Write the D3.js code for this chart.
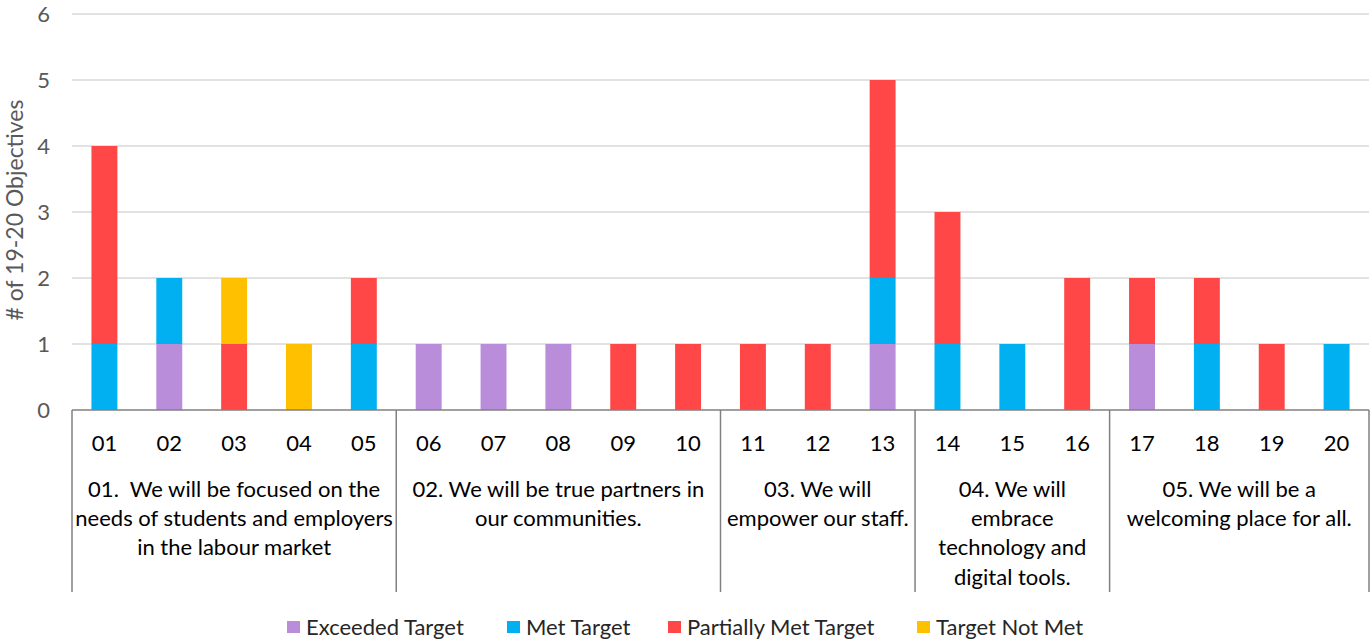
<!doctype html>
<html>
<head>
<script src="https://d3js.org/d3.v7.min.js"></script>
<style>
  body { margin: 0; background: #fff; }
  text { font-family: Lato, "Open Sans", sans-serif; }
</style>
</head>
<body>
<svg id="chart"></svg>
<script>
    // data
    var codes = ["01","02","03","04","05","06","07","08","09","10",
                 "11","12","13","14","15","16","17","18","19","20"];
    var exceeded = [0,1,0,0,0,1,1,1,0,0,0,0,1,0,0,0,1,0,0,0];
    var met      = [1,1,0,0,1,0,0,0,0,0,0,0,1,1,1,0,0,1,0,1];
    var partial  = [3,0,1,0,1,0,0,0,1,1,1,1,3,2,0,2,1,1,1,0];
    var notMet   = [0,0,1,1,0,0,0,0,0,0,0,0,0,0,0,0,0,0,0,0];
    var seriesNames = ["Exceeded Target", "Met Target", "Partially Met Target", "Target Not Met"];
    var colors = ["#B98DDA", "#00B0F0", "#FF4747", "#FFC000"];
    var groupSizes = [5, 5, 3, 3, 4];
    var groupLabels = [
        ["01.\u00a0 We will be focused on the", "needs of students and employers", "in the labour market"],
        ["02. We will be true partners in", "our communities."],
        ["03. We will", "empower our staff."],
        ["04. We will", "embrace", "technology and", "digital tools."],
        ["05. We will be a", "welcoming place for all."]
    ];
    var yTicks = [0,1,2,3,4,5,6];

    var W = 1372, H = 641;
    var margin = { top: 14, right: 3, bottom: 231, left: 72 },
        width = W - margin.left - margin.right,
        height = H - margin.top - margin.bottom;

    var svg = d3.select("#chart").attr("width", W).attr("height", H);
    var g = svg.append("g").attr("transform", "translate(" + margin.left + "," + margin.top + ")");

    var table = codes.map(function (c, i) {
        return { code: c, e: exceeded[i], m: met[i], p: partial[i], n: notMet[i] };
    });
    var keys = ["e", "m", "p", "n"];
    var stacked = d3.stack().keys(keys)(table);

    var x = d3.scaleBand().domain(codes).range([0, width]).paddingInner(0.6).paddingOuter(0.3);
    var y = d3.scaleLinear().domain([0, 6]).range([height, 0]);

    // gridlines
    g.selectAll(".grid")
        .data(yTicks.slice(1))
        .enter().append("line")
        .attr("x1", 0).attr("x2", width)
        .attr("y1", function (d) { return y(d); })
        .attr("y2", function (d) { return y(d); })
        .attr("stroke", "#d9d9d9").attr("stroke-width", 1.5);

    g.selectAll(".ytick")
        .data(yTicks)
        .enter().append("text")
        .attr("x", -22)
        .attr("y", function (d) { return y(d); })
        .attr("dy", "0.35em")
        .attr("text-anchor", "end")
        .attr("fill", "#595959")
        .style("font-size", "22px")
        .text(function (d) { return d; });

    // bars
    g.selectAll(".layer")
        .data(stacked)
        .enter().append("g")
        .attr("fill", function (d, i) { return colors[i]; })
        .selectAll("rect")
        .data(function (d) { return d; })
        .enter().append("rect")
        .attr("x", function (d) { return x(d.data.code); })
        .attr("y", function (d) { return y(d[1]); })
        .attr("width", x.bandwidth())
        .attr("height", function (d) { return y(d[0]) - y(d[1]); });

    // baseline
    g.append("line")
        .attr("x1", 0).attr("x2", width)
        .attr("y1", height).attr("y2", height)
        .attr("stroke", "#808080").attr("stroke-width", 1.5);

    // category labels
    g.selectAll(".cat")
        .data(codes)
        .enter().append("text")
        .attr("x", function (d) { return x(d) + x.bandwidth() / 2; })
        .attr("y", height + 33)
        .attr("dy", "0.35em")
        .attr("text-anchor", "middle")
        .attr("fill", "#000")
        .style("font-size", "22px")
        .text(function (d) { return d; });

    // group separators and labels
    var step = x.step();
    var bounds = [0];
    groupSizes.forEach(function (s, i) { bounds.push(bounds[i] + s); });

    g.selectAll(".sep")
        .data(bounds)
        .enter().append("line")
        .attr("x1", function (d) { return d * step; })
        .attr("x2", function (d) { return d * step; })
        .attr("y1", height)
        .attr("y2", height + 182)
        .attr("stroke", "#808080").attr("stroke-width", 1.5);

    groupLabels.forEach(function (lines, i) {
        var cx = (bounds[i] + bounds[i + 1]) / 2 * step;
        g.append("text")
            .attr("text-anchor", "middle")
            .attr("fill", "#000")
            .style("font-size", "22px")
            .selectAll("tspan")
            .data(lines)
            .enter().append("tspan")
            .attr("x", cx)
            .attr("y", function (d, j) { return height + 79 + j * 29.3; })
            .attr("dy", "0.35em")
            .text(function (d) { return d; });
    });

    // y axis title
    svg.append("text")
        .attr("transform", "translate(15,210) rotate(-90)")
        .attr("text-anchor", "middle")
        .attr("dy", "0.35em")
        .attr("fill", "#595959")
        .style("font-size", "23px")
        .text("# of 19-20 Objectives");

    // legend
    var legendX = [287, 507, 668, 917];
    var legend = svg.selectAll(".legend")
        .data(seriesNames)
        .enter().append("g")
        .attr("transform", function (d, i) { return "translate(" + legendX[i] + ",627)"; });
    legend.append("rect")
        .attr("x", 0).attr("y", -6)
        .attr("width", 13).attr("height", 12)
        .attr("fill", function (d, i) { return colors[i]; });
    legend.append("text")
        .attr("x", 19)
        .attr("dy", "0.35em")
        .attr("fill", "#262626")
        .style("font-size", "22px")
        .text(function (d) { return d; });
</script>
</body>
</html>
